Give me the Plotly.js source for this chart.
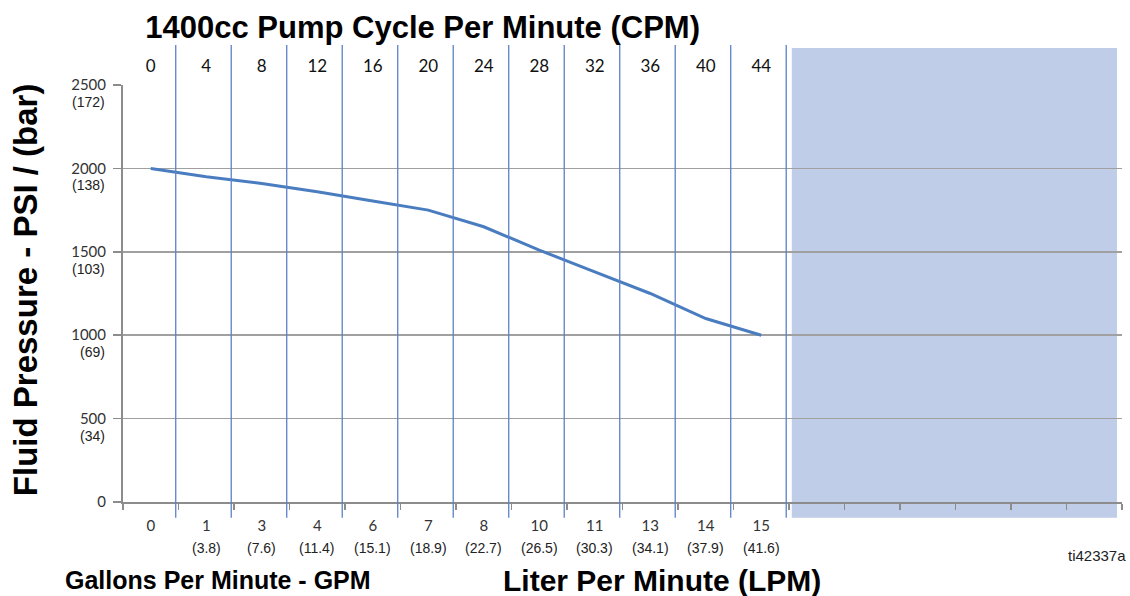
<!DOCTYPE html>
<html>
<head>
<meta charset="utf-8">
<script src="https://cdn.plot.ly/plotly-3.0.1.min.js"></script>
<style>html,body{margin:0;padding:0;background:#fff;}#chart{width:1130px;height:596px;}</style>
</head>
<body>
<div id="chart"></div>
<script>
// ---- data ----
const gpmLabels = ['0','1','3','4','6','7','8','10','11','13','14','15'];
const lpmLabels = ['','(3.8)','(7.6)','(11.4)','(15.1)','(18.9)','(22.7)','(26.5)','(30.3)','(34.1)','(37.9)','(41.6)'];
const cpmLabels = ['0','4','8','12','16','20','24','28','32','36','40','44'];
const psiValues = [2000,1950,1910,1860,1805,1750,1650,1510,1380,1250,1100,1000];
const psiTicks = [0,500,1000,1500,2000,2500];
const barLabels = ['','(34)','(69)','(103)','(138)','(172)'];
const extraSlots = 6; // unlabeled slots in shaded area

const nCat = gpmLabels.length;
const totalSlots = nCat + extraSlots;
const idx = gpmLabels.map((_, i) => i);

const ARIAL = 'Liberation Sans, Arial, sans-serif';

const lineTrace = {
  x: idx, y: psiValues, type: 'scatter', mode: 'lines',
  line: {color: '#4a7dc0', width: 3}, hoverinfo: 'skip', showlegend: false
};
const dummyTop = {
  x: idx, y: idx.map(() => null), xaxis: 'x2', type: 'scatter', mode: 'lines',
  showlegend: false, hoverinfo: 'skip'
};

const shapes = [];
shapes.push({type: 'rect', xref: 'x', yref: 'paper', layer: 'below',
  x0: nCat - 0.45, x1: totalSlots - 0.59, y0: -0.038, y1: 1.089,
  fillcolor: '#bfcde9', line: {width: 0}});
for (let i = 0; i < nCat; i++) {
  shapes.push({type: 'line', xref: 'x', yref: 'paper', layer: 'above',
    x0: i + 0.45, x1: i + 0.45, y0: -0.038, y1: 1.096,
    line: {color: '#5b82c8', width: 1.3}});
}

const annotations = [];
psiTicks.forEach((v, i) => {
  if (!barLabels[i]) return;
  annotations.push({xref: 'paper', yref: 'y', x: 0, y: v, xanchor: 'right', yanchor: 'middle',
    xshift: -16, yshift: -17, showarrow: false, text: barLabels[i],
    font: {family: ARIAL, size: 14, color: '#222'}});
});
lpmLabels.forEach((t, i) => {
  if (!t) return;
  annotations.push({xref: 'x', yref: 'paper', x: i, y: 0, xanchor: 'center', yanchor: 'middle',
    yshift: -46, showarrow: false, text: t,
    font: {family: ARIAL, size: 14, color: '#222'}});
});
annotations.push({xref: 'paper', yref: 'paper', x: 0.095, y: 0, xanchor: 'center', yanchor: 'middle',
  yshift: -78, showarrow: false, text: '<b>Gallons Per Minute - GPM</b>',
  font: {family: ARIAL, size: 25, color: '#000'}});
annotations.push({xref: 'paper', yref: 'paper', x: 0.54, y: 0, xanchor: 'center', yanchor: 'middle',
  yshift: -78, showarrow: false, text: '<b>Liter Per Minute (LPM)</b>',
  font: {family: ARIAL, size: 30, color: '#000'}});
annotations.push({xref: 'paper', yref: 'paper', x: 1, y: 0, xanchor: 'right', yanchor: 'middle',
  yshift: -53, xshift: 6, showarrow: false, text: 'ti42337a',
  font: {family: ARIAL, size: 15, color: '#222'}});
annotations.push({xref: 'paper', yref: 'paper', x: 0, y: 0.508, xanchor: 'center', yanchor: 'middle',
  xshift: -98, textangle: -90, showarrow: false, text: '<b>Fluid Pressure - PSI / (bar)</b>',
  font: {family: ARIAL, size: 33, color: '#000'}});

const layout = {
  width: 1130, height: 596,
  margin: {l: 123, r: 8, t: 85, b: 94},
  paper_bgcolor: '#fff', plot_bgcolor: 'rgba(0,0,0,0)',
  title: {text: '<b>1400cc Pump Cycle Per Minute (CPM)</b>', xref: 'container', yref: 'container',
    x: 0.374, y: 0.955, xanchor: 'center', yanchor: 'middle',
    font: {family: ARIAL, size: 31, color: '#000'}},
  xaxis: {
    range: [-0.5, totalSlots - 0.5], tickmode: 'array', tickvals: idx, ticktext: gpmLabels,
    ticks: '', showgrid: false, zeroline: false,
    showline: true, linecolor: '#8c8c8c', linewidth: 1.5,
    tickfont: {family: 'Lato, sans-serif', size: 15, color: '#333'},
    ticklabelstandoff: 9,
    minor: {tickmode: 'linear', tick0: 0.5, dtick: 1, ticks: 'outside', ticklen: 6, tickcolor: '#8c8c8c', tickwidth: 1.2, showgrid: false},
    fixedrange: true
  },
  xaxis2: {
    overlaying: 'x', side: 'top', range: [-0.5, totalSlots - 0.5], tickmode: 'array',
    tickvals: idx, ticktext: cpmLabels, ticks: '', showgrid: false, zeroline: false, showline: false,
    tickfont: {family: 'Lato, sans-serif', size: 17, color: '#111'}, ticklabelstandoff: 9
  },
  yaxis: {
    range: [0, 2500], tickmode: 'array', tickvals: psiTicks, ticktext: psiTicks.map(String),
    showgrid: true, gridcolor: '#a0a0a0', gridwidth: 1.5, zeroline: false,
    showline: true, linecolor: '#8c8c8c', linewidth: 2,
    ticks: 'outside', ticklen: 8, tickcolor: '#8c8c8c', tickwidth: 1.5,
    tickfont: {family: 'Lato, sans-serif', size: 15, color: '#333'},
    ticklabelstandoff: 4,
    fixedrange: true
  },
  shapes: shapes,
  annotations: annotations,
  showlegend: false
};

Plotly.newPlot('chart', [lineTrace, dummyTop], layout, {displayModeBar: false, staticPlot: true});
</script>
</body>
</html>
